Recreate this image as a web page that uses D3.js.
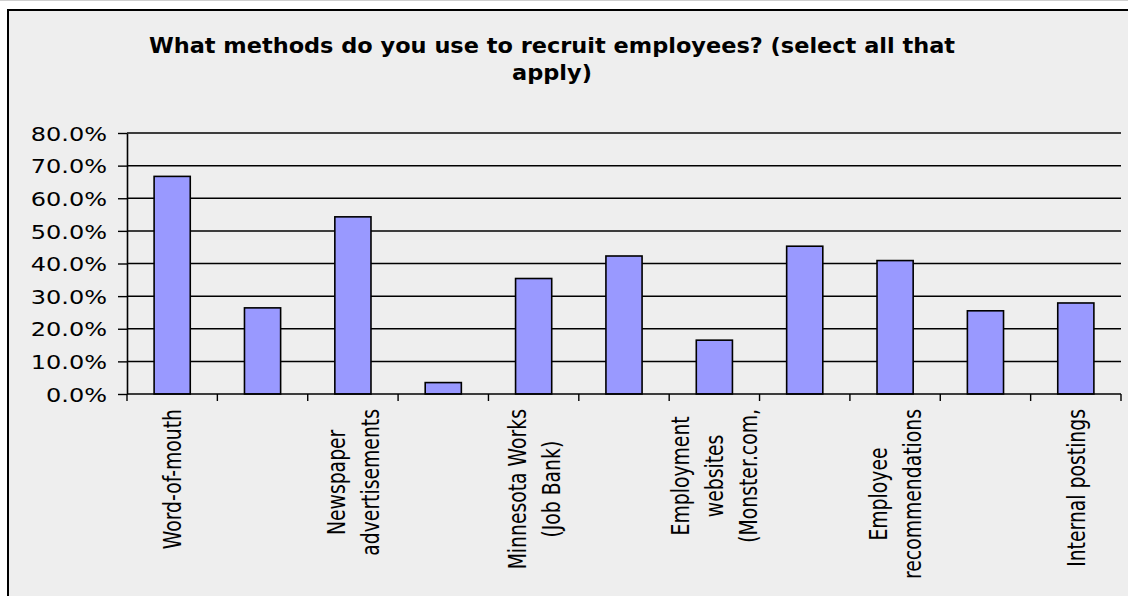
<!DOCTYPE html>
<html>
<head>
<meta charset="utf-8">
<script src="https://cdn.jsdelivr.net/npm/d3@7"></script>
<style>
  html, body { margin: 0; padding: 0; background: #ffffff; }
  svg { display: block; }
  text { font-family: Verdana, "DejaVu Sans", sans-serif; fill: #000; }
</style>
</head>
<body>
<svg id="chart" width="1128" height="596"></svg>
<script>
// Survey: recruitment methods (share of respondents, multiple answers allowed)
const titleLines = ["What methods do you use to recruit employees? (select all that", "apply)"];
const categoryLabels = [
  ["Word-of-mouth"],
  [],
  ["Newspaper", "advertisements"],
  [],
  ["Minnesota Works", "(Job Bank)"],
  [],
  ["Employment", "websites", "(Monster.com,"],
  [],
  ["Employee", "recommendations"],
  [],
  ["Internal postings"]
];
const shares = [0.667, 0.264, 0.543, 0.035, 0.354, 0.423, 0.165, 0.453, 0.409, 0.255, 0.279];
const yTicks = [0, 0.1, 0.2, 0.3, 0.4, 0.5, 0.6, 0.7, 0.8];

const W = 1128, H = 596;
const plot = { left: 127, right: 1121, top: 133, bottom: 394 };

const svg = d3.select("#chart");

// page strip and chart frame (frame runs past the right and bottom edges)
svg.append("rect").attr("x", 0).attr("y", 0).attr("width", W).attr("height", H).attr("fill", "#ffffff");
svg.append("line").attr("x1", 0).attr("x2", W).attr("y1", 0.5).attr("y2", 0.5)
  .attr("stroke", "#cfcfcf").attr("stroke-width", 1);
svg.append("rect")
  .attr("x", 8).attr("y", 10).attr("width", W).attr("height", H)
  .attr("fill", "#eeeeee").attr("stroke", "#000").attr("stroke-width", 2);

// title
const title = svg.append("g").attr("transform", "translate(552,0)");
titleLines.forEach((t, i) => {
  title.append("text")
    .attr("transform", `translate(0,${53 + i * 27}) scale(1.02,1)`)
    .attr("text-anchor", "middle")
    .attr("font-weight", "bold")
    .attr("font-size", 22)
    .text(t);
});

// scales
const idx = d3.range(shares.length);
const xSlot = d3.scaleBand().domain(idx).range([plot.left, plot.right]).padding(0);
const xBar = d3.scaleBand().domain(idx).range([plot.left, plot.right])
  .paddingInner(0.6).paddingOuter(0.3);
const y = d3.scaleLinear().domain([0, 0.8]).range([plot.bottom, plot.top]);

// horizontal gridlines
svg.append("g").selectAll("line").data(yTicks.filter(v => v > 0)).join("line")
  .attr("x1", plot.left).attr("x2", plot.right)
  .attr("y1", d => y(d)).attr("y2", d => y(d))
  .attr("stroke", "#000").attr("stroke-width", 1.5);

// bars
svg.append("g").selectAll("rect").data(shares).join("rect")
  .attr("x", (d, i) => xBar(i))
  .attr("y", d => y(d))
  .attr("width", xBar.bandwidth())
  .attr("height", d => y(0) - y(d))
  .attr("fill", "#9999ff")
  .attr("stroke", "#000")
  .attr("stroke-width", 1.6);

// y axis
const yAxis = svg.append("g")
  .attr("transform", `translate(${plot.left},0)`)
  .call(d3.axisLeft(y).tickValues(yTicks).tickFormat(d3.format(".1%")).tickSize(9).tickSizeOuter(0));
yAxis.select(".domain").attr("stroke", "#000").attr("stroke-width", 1.6);
yAxis.selectAll(".tick line").attr("stroke", "#000").attr("stroke-width", 1.4);
yAxis.selectAll(".tick text")
  .attr("x", 0)
  .attr("dy", "0.36em")
  .attr("transform", "translate(-20,0) scale(1.2,1)")
  .attr("font-size", 20)
  .attr("font-family", "Verdana, 'DejaVu Sans', sans-serif")
  .attr("fill", "#000");

// x axis line and boundary ticks
const xAxis = svg.append("g");
xAxis.append("line")
  .attr("x1", plot.left).attr("x2", plot.right)
  .attr("y1", plot.bottom).attr("y2", plot.bottom)
  .attr("stroke", "#000").attr("stroke-width", 1.6);
const boundaries = idx.map(i => xSlot(i)).concat([plot.right]);
xAxis.selectAll("line.tk").data(boundaries).join("line").attr("class", "tk")
  .attr("x1", d => d).attr("x2", d => d)
  .attr("y1", plot.bottom).attr("y2", plot.bottom + 7)
  .attr("stroke", "#000").attr("stroke-width", 1.4);

// rotated category labels, lines centred on each other
const lineGap = 34, glyphStretch = 1.35, labelTop = plot.bottom + 15;
categoryLabels.forEach((lines, i) => {
  if (!lines.length) return;
  const cx = xSlot(i) + xSlot.bandwidth() / 2;
  const g = svg.append("g")
    .attr("transform", `translate(${cx},${labelTop}) rotate(-90) scale(1,${glyphStretch})`);
  const texts = lines.map((t, k) => g.append("text")
    .attr("font-family", "'DejaVu Sans', Verdana, sans-serif")
    .attr("font-size", 18.8)
    .attr("text-anchor", "middle")
    .attr("dominant-baseline", "central")
    .attr("y", (k - (lines.length - 1) / 2) * lineGap / glyphStretch)
    .text(t));
  const maxLen = d3.max(texts, t => t.node().getComputedTextLength());
  texts.forEach(t => t.attr("x", -maxLen / 2));
});
</script>
</body>
</html>
